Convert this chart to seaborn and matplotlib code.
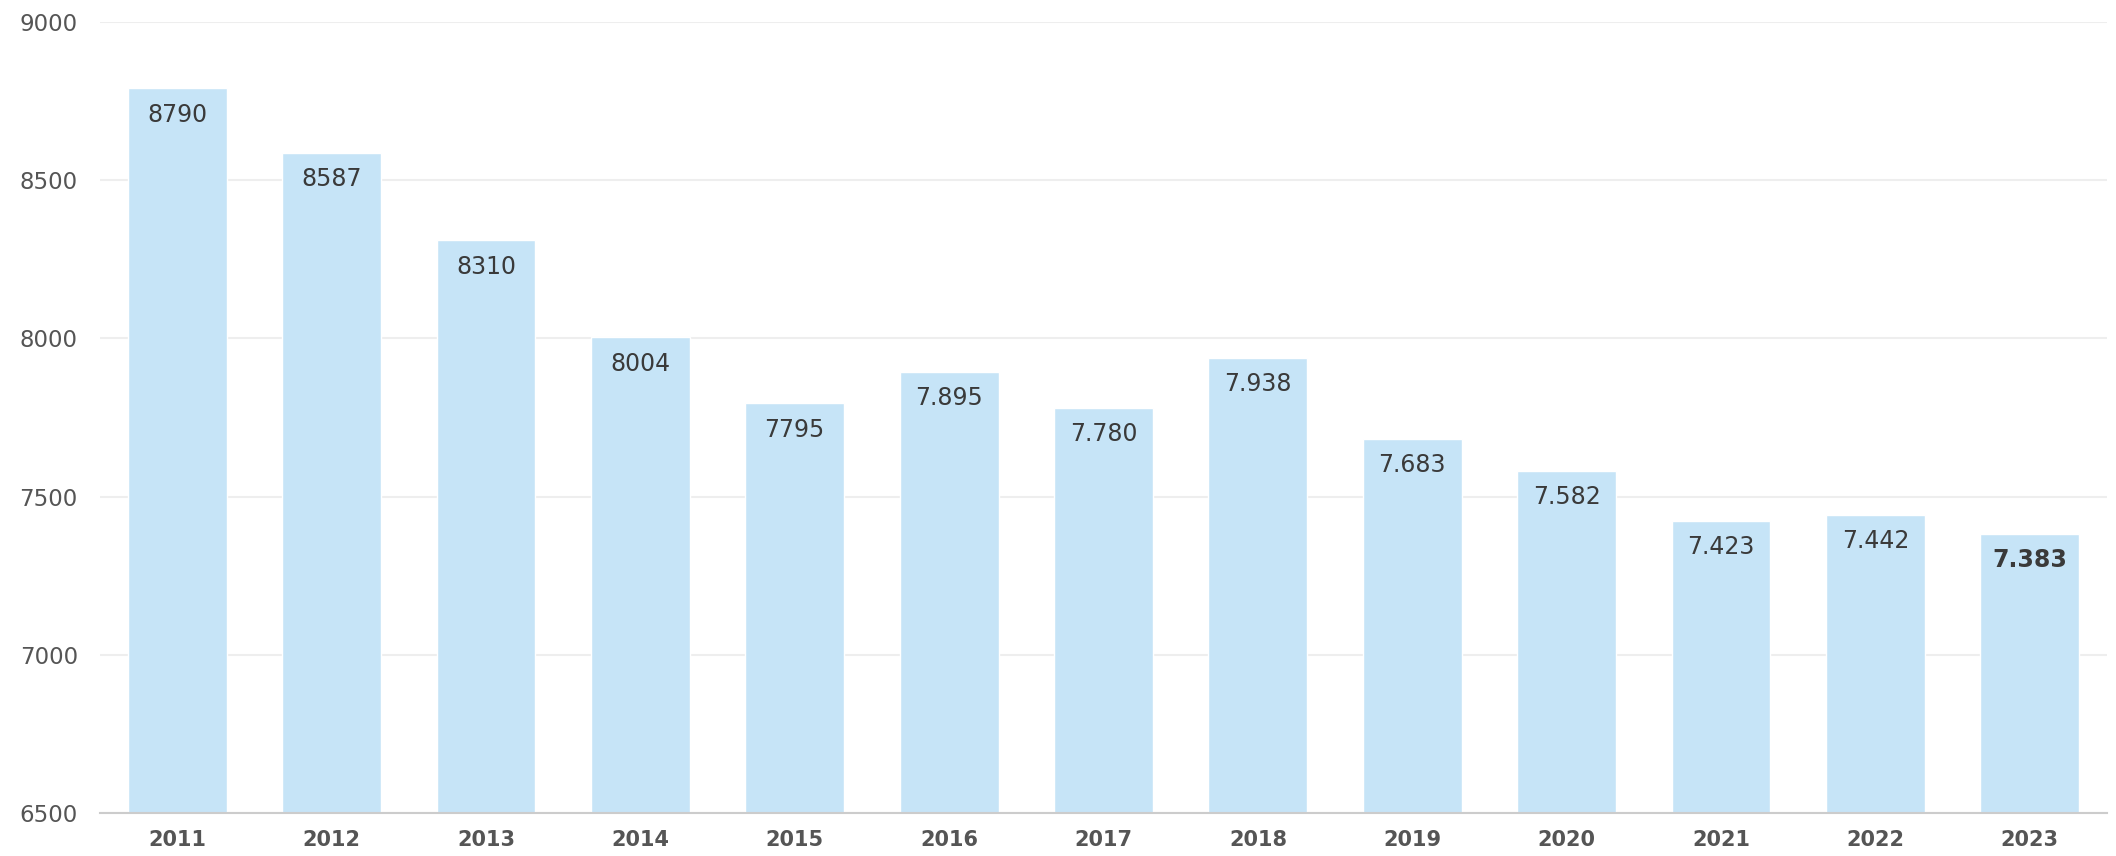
import pandas as pd
import seaborn as sns
import matplotlib.pyplot as plt

# Data
years = ['2011', '2012', '2013', '2014', '2015', '2016', '2017',
         '2018', '2019', '2020', '2021', '2022', '2023']
values = [8790, 8587, 8310, 8004, 7795, 7895, 7780,
          7938, 7683, 7582, 7423, 7442, 7383]
value_labels = ['8790', '8587', '8310', '8004', '7795', '7.895', '7.780',
                '7.938', '7.683', '7.582', '7.423', '7.442', '7.383']
y_ticks = [6500, 7000, 7500, 8000, 8500, 9000]

df = pd.DataFrame({'year': years, 'value': values})

sns.set_style('white')
plt.rcParams['font.family'] = ['DejaVu Sans']

fig = plt.figure(figsize=(21.16, 8.56), dpi=100)
ax = fig.add_axes([100 / 2116, 43 / 856, 2007 / 2116, 791 / 856])

sns.barplot(data=df, x='year', y='value', color='#c6e4f7', saturation=1,
            width=0.64, ax=ax, zorder=2)

ax.set_ylim(6500, 9000)
ax.set_yticks(y_ticks)
ax.set_xlim(-0.5, len(years) - 0.5)
ax.grid(axis='y', color='#eeeeee', linewidth=1.5, zorder=0)
ax.set_axisbelow(True)
ax.set_xlabel('')
ax.set_ylabel('')

for spine in ['top', 'right', 'left']:
    ax.spines[spine].set_visible(False)
ax.spines['bottom'].set_color('#cccccc')
ax.spines['bottom'].set_linewidth(1.5)

ax.tick_params(axis='y', length=0, pad=16, labelsize=16.5, labelcolor='#555555')
ax.tick_params(axis='x', length=0, pad=12, labelsize=15, labelcolor='#555555')
for lbl in ax.get_xticklabels():
    lbl.set_fontweight('bold')

# Value labels inside the top of each bar
for i, (bar, text) in enumerate(zip(ax.patches, value_labels)):
    x = bar.get_x() + bar.get_width() / 2
    top = bar.get_y() + bar.get_height()
    ax.annotate(text, (x, top), xytext=(0, -19), textcoords='offset points',
                ha='center', va='center', fontsize=17, color='#3a3a3a',
                fontweight='bold' if i == len(value_labels) - 1 else 'normal',
                zorder=3)

fig.savefig('out.png', dpi=100)
